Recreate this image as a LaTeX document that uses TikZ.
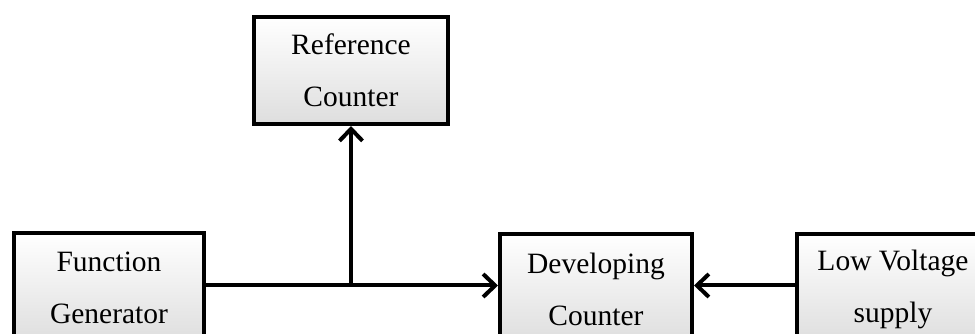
\documentclass[tikz,border=0pt]{standalone}
\usepackage{fontspec}
\setmainfont{Liberation Serif}
\usetikzlibrary{arrows.meta}
\begin{document}
\begin{tikzpicture}[x=1pt,y=1pt,
  blockbox/.style={draw=black, line width=4pt, rectangle, anchor=north west,
    top color=white, bottom color=black!13, inner sep=0pt,
    align=center, font=\fontsize{29.5}{52}\selectfont},
  link/.style={line width=4pt, line cap=butt},
  tip/.style={-{Straight Barb[length=12pt,width=23pt,line width=4pt]}}]
  \useasboundingbox (0,0) rectangle (975,334);
  \clip (0,0) rectangle (975,334);

  \node[blockbox, minimum width=194, minimum height=107] (ref) at (252,319)
    {Reference\\Counter};
  \node[blockbox, minimum width=190, minimum height=110] (fg) at (12,103)
    {Function\\Generator};
  \node[blockbox, minimum width=192, minimum height=110] (dc) at (498,102)
    {Developing\\Counter};
  \node[blockbox, minimum width=192, minimum height=110] (lv) at (795,102)
    {Low Voltage\\supply};

  % signal bus level shared by the lower row
  \coordinate (bus) at (0,48.5);
  \coordinate (j) at (ref.south |- bus);
  \draw[link, tip] (fg.east |- bus) -- (dc.west |- bus);
  \draw[link, tip] (j) -- (ref.south);
  \draw[link, tip] (lv.west |- bus) -- (dc.east |- bus);
\end{tikzpicture}
\end{document}
